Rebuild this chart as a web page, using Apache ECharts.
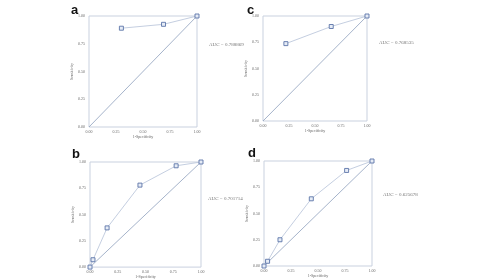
<!DOCTYPE html>
<html><head><meta charset="utf-8">
<script src="https://cdn.jsdelivr.net/npm/echarts@6/dist/echarts.min.js"></script>
<style>html,body{margin:0;padding:0;background:#fff}#c{width:483px;height:280px}</style>
</head><body><div id="c"></div>
<script>
const panelLabels = ['a','c','b','d'];
const aucTexts = ['AUC = 0.788869','AUC = 0.768535','AUC = 0.701714','AUC = 0.625678'];
const tickLabels = ['0.00','0.25','0.50','0.75','1.00'];
const xName = '1-Specificity';
const yName = 'Sensitivity';
const curveA = [[0.30,0.89],[0.69,0.925],[1,1]];
const curveC = [[0.22,0.737],[0.656,0.90],[1,1]];
const curveB = [[0,0],[0.027,0.07],[0.154,0.373],[0.45,0.78],[0.776,0.964],[1,1]];
const curveD = [[0,0],[0.033,0.045],[0.148,0.25],[0.438,0.64],[0.765,0.91],[1,1]];
const diagonal = [[0,0],[1,1]];
const curves = [curveA, curveC, curveB, curveD];

const grids = [
  {left:89, top:16, width:108, height:111},
  {left:263, top:16, width:104, height:105},
  {left:90, top:162, width:111, height:110},
  {left:264, top:161, width:108, height:105}
];
const labelPos = [[71,4],[247,4],[72,148],[248,147]];
const aucPos = [[209,42],[379,40],[208,196],[383,192]];

const chart = echarts.init(document.getElementById('c'), null, {renderer:'canvas'});
const option = {
  backgroundColor:'#fff',
  animation:false,
  grid: grids.map(g=>Object.assign({show:true, borderColor:'#c9d1df', borderWidth:1, backgroundColor:'transparent'}, g)),
  xAxis: grids.map((g,i)=>({
    gridIndex:i, type:'value', min:0, max:1, interval:0.25,
    name:xName, nameLocation:'middle', nameGap:7,
    nameTextStyle:{fontSize:4, color:'#666', fontFamily:'Liberation Serif'},
    axisLine:{show:false}, axisTick:{show:false}, splitLine:{show:false},
    axisLabel:{fontSize:4, color:'#666', margin:3, fontFamily:'Liberation Serif', formatter:v=>tickLabels[Math.round(v*4)]}
  })),
  yAxis: grids.map((g,i)=>({
    gridIndex:i, type:'value', min:0, max:1, interval:0.25,
    name:yName, nameLocation:'middle', nameGap:14, nameRotate:90,
    nameTextStyle:{fontSize:4, color:'#666', fontFamily:'Liberation Serif'},
    axisLine:{show:false}, axisTick:{show:false}, splitLine:{show:false},
    axisLabel:{fontSize:4, color:'#666', margin:4, fontFamily:'Liberation Serif', formatter:v=>tickLabels[Math.round(v*4)]}
  })),
  graphic: [].concat(
    panelLabels.map((t,i)=>({type:'text', left:labelPos[i][0], top:labelPos[i][1],
      style:{text:t, font:'bold 13px Liberation Sans', fill:'#111'}})),
    aucTexts.map((t,i)=>({type:'text', left:aucPos[i][0], top:aucPos[i][1],
      style:{text:t, font:'5px Liberation Serif', fill:'#777'}}))
  ),
  series: [].concat(
    grids.map((g,i)=>({type:'line', xAxisIndex:i, yAxisIndex:i, data:diagonal, symbol:'none',
      lineStyle:{color:'#8e9fbd', width:0.8}, silent:true})),
    curves.map((c,i)=>({type:'line', xAxisIndex:i, yAxisIndex:i, data:c, symbol:'rect', symbolSize:4,
      lineStyle:{color:'#b5c2d8', width:0.8},
      itemStyle:{color:'#e6ecf6', borderColor:'#5b74a8', borderWidth:0.9}, silent:true}))
  )
};
chart.setOption(option);
</script></body></html>
